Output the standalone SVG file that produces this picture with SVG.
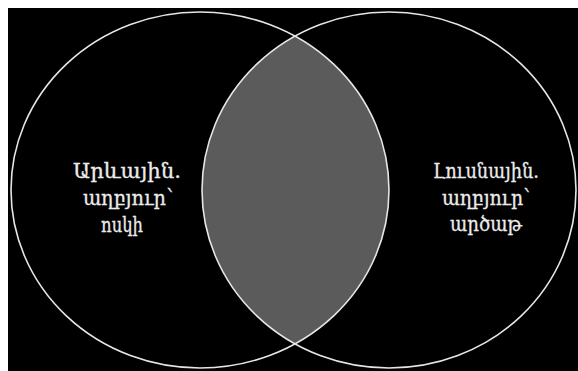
<svg xmlns="http://www.w3.org/2000/svg" width="578" height="371" viewBox="0 0 578 371">
  <style>
    .ring { fill: none; stroke: #e6e6e6; stroke-width: 1.6; }
    .label { font-family: "DejaVu Serif", "Noto Sans", serif; font-size: 21px; fill: #ececec; stroke: #ececec; stroke-width: 0.3; text-anchor: middle; }
  </style>
  <defs>
    <clipPath id="clipLeft">
      <ellipse cx="200" cy="190" rx="189" ry="178"/>
    </clipPath>
  </defs>
  <rect x="0" y="0" width="578" height="371" fill="#ffffff"/>
  <rect x="8" y="8" width="570" height="363" fill="#000000"/>
  <g id="overlap">
    <ellipse cx="389" cy="190" rx="187" ry="178" fill="#5b5b5b" clip-path="url(#clipLeft)"/>
  </g>
  <g id="solar">
    <ellipse class="ring" cx="200" cy="190" rx="189" ry="178"/>
    <text class="label" x="127" y="178" textLength="108" lengthAdjust="spacingAndGlyphs">Արևային.</text>
    <text class="label" x="128" y="205" textLength="90" lengthAdjust="spacingAndGlyphs">աղբյուր՝</text>
    <text class="label" x="122" y="232" textLength="42" lengthAdjust="spacingAndGlyphs">ոսկի</text>
  </g>
  <g id="lunar">
    <ellipse class="ring" cx="389" cy="190" rx="187" ry="178"/>
    <text class="label" x="486" y="178" textLength="106" lengthAdjust="spacingAndGlyphs">Լուսնային.</text>
    <text class="label" x="486" y="205" textLength="88" lengthAdjust="spacingAndGlyphs">աղբյուր՝</text>
    <text class="label" x="486" y="231" textLength="72" lengthAdjust="spacingAndGlyphs">արծաթ</text>
  </g>
</svg>
